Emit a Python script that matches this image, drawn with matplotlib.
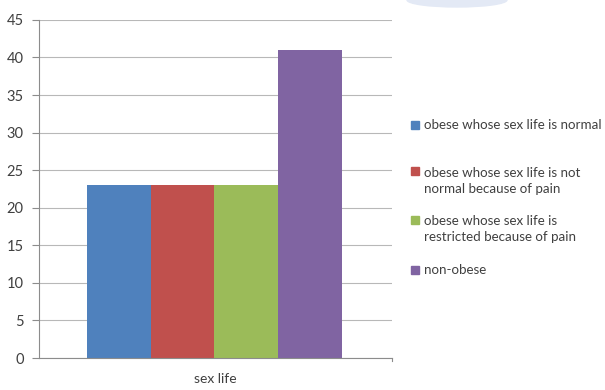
import matplotlib.pyplot as plt
from matplotlib.patches import Rectangle, Ellipse

# group values
labels = [
    "obese whose sex life is normal",
    "obese whose sex life is not\nnormal because of pain",
    "obese whose sex life is\nrestricted because of pain",
    "non-obese",
]
values = [23, 23, 23, 41]
colors = ["#4F81BD", "#C0504D", "#9BBB59", "#8064A2"]
category = "sex life"
yticks = list(range(0, 50, 5))

plt.rcParams["font.family"] = ["Lato", "DejaVu Sans"]

fig = plt.figure(figsize=(6.05, 3.9), dpi=100)
ax = fig.add_axes([0.0645, 0.082, 0.5835, 0.867])

w = 0.181
for i, (v, c) in enumerate(zip(values, colors)):
    ax.bar(0.497 + (i - 1.5) * w, v, width=w, color=c, zorder=2)

ax.set_xlim(0, 1)
ax.set_ylim(0, 45)
ax.set_yticks(yticks)
ax.set_xticks([0.5])
ax.set_xticklabels([category])
ax.yaxis.grid(True, color="#b8b8b8", linewidth=0.8, zorder=0)
ax.set_axisbelow(True)

for s in ["top", "right"]:
    ax.spines[s].set_visible(False)
for s in ["left", "bottom"]:
    ax.spines[s].set_color("#8c8c8c")
    ax.spines[s].set_linewidth(0.8)

ax.tick_params(axis="y", length=5, color="#8c8c8c", labelsize=10.5, labelcolor="#404040", pad=6)
ax.tick_params(axis="x", length=0, labelsize=10, labelcolor="#404040", pad=11)
ax.plot([1, 1], [0, -0.4], color="#8c8c8c", linewidth=0.8, clip_on=False)

# legend drawn by hand to keep the uneven spacing
legend_y = [125, 181, 229, 270]
for lab, c, y in zip(labels, colors, legend_y):
    fy = 1 - y / 390
    nlines = lab.count("\n") + 1
    sq_y = fy + (nlines - 1) * 0.5 * 19 / 390
    fig.patches.append(Rectangle((411 / 605, sq_y - 4 / 390), 8 / 605, 8 / 390,
                                 transform=fig.transFigure, color=c))
    fig.text(424 / 605, fy, lab, fontsize=9.6, color="#404040", va="center",
             linespacing=1.45)

# faint header blob at the top edge
fig.patches.append(Ellipse((457 / 605, 1.0), 100 / 605, 14 / 390,
                           transform=fig.transFigure, color="#e3e9f5", zorder=0))

fig.savefig("out.png", dpi=100)
